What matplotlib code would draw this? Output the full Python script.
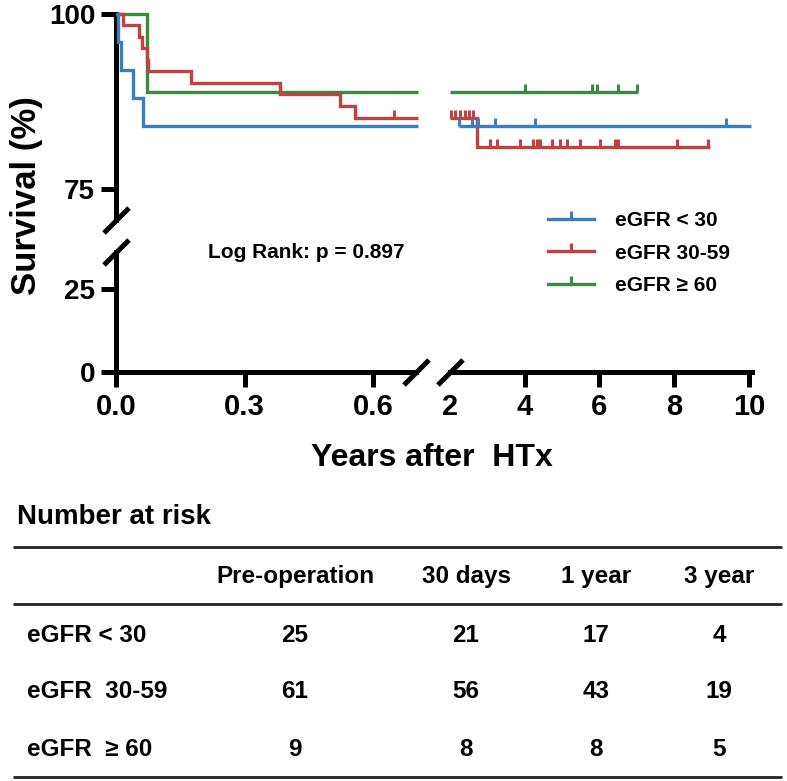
import matplotlib
matplotlib.use("Agg")
import matplotlib.pyplot as plt
from matplotlib.path import Path
from matplotlib.lines import Line2D

plt.rcParams['font.family'] = ['Liberation Sans', 'DejaVu Sans']
plt.rcParams['font.weight'] = 'bold'

# ---------------- data ----------------
groups = ["eGFR < 30", "eGFR 30-59", "eGFR \u2265 60"]
colors = ["#3A7EC0", "#C0423F", "#3A8A3F"]

blue_event_t = [0.005, 0.011, 0.039, 0.062]
blue_event_s = [96.0, 92.0, 88.0, 84.0]
blue_censor_t = [2.24, 2.59, 2.75, 3.20, 4.27, 9.38]
blue_right_start = 2.24
blue_end = 10.05

red_event_t = [0.016, 0.054, 0.060, 0.072, 0.075, 0.175, 0.382, 0.523, 0.558, 2.71]
red_event_s = [98.4, 96.7, 95.1, 93.4, 91.8, 90.2, 88.5, 86.9, 85.2, 81.0]
red_censor_t = [0.649, 2.03, 2.13, 2.27, 2.40, 2.51, 2.62, 3.07, 3.26, 3.87, 4.22,
                4.33, 4.41, 4.73, 4.94, 5.13, 5.48, 6.01, 6.41, 6.49, 8.07, 8.90]
red_right_start = 2.0
red_end = 8.96

green_event_t = [0.072]
green_event_s = [88.9]
green_censor_t = [4.01, 5.80, 5.93, 6.49, 7.00]
green_right_start = 2.0
green_end = 7.03

log_rank_text = "Log Rank: p = 0.897"

risk_columns = ["Pre-operation", "30 days", "1 year", "3 year"]
risk_rows = ["eGFR < 30", "eGFR  30-59", "eGFR  \u2265 60"]
risk_lt30 = [25, 21, 17, 4]
risk_30_59 = [61, 56, 43, 19]
risk_ge60 = [9, 8, 8, 5]

left_xticks = [0.0, 0.3, 0.6]
left_xticklabels = ["0.0", "0.3", "0.6"]
right_xticks = [2, 4, 6, 8, 10]
upper_yticks = [75, 100]
lower_yticks = [0, 25]

# ---------------- layout ----------------
W, H = 787, 781
fig = plt.figure(figsize=(W / 100, H / 100), dpi=100)


def rect(x0, y0, x1, y1):
    return [x0 / W, 1 - y1 / H, (x1 - x0) / W, (y1 - y0) / H]


XL = (116, 416)
XR = (450, 751.6)
YU = (14, 220)
YL = (252, 372)

ax_ul = fig.add_axes(rect(XL[0], YU[0], XL[1], YU[1]))
ax_ur = fig.add_axes(rect(XR[0], YU[0], XR[1], YU[1]))
ax_ll = fig.add_axes(rect(XL[0], YL[0], XL[1], YL[1]))
ax_lr = fig.add_axes(rect(XR[0], YL[0], XR[1], YL[1]))

LEFT_LIM = (0, 0.7)
RIGHT_LIM = (2, 10.07)
UP_LIM = (70.57, 100)
LOW_LIM = (0, 36.1)
LEFT_CURVE_END = 0.705

for ax in (ax_ul, ax_ll):
    ax.set_xlim(*LEFT_LIM)
for ax in (ax_ur, ax_lr):
    ax.set_xlim(*RIGHT_LIM)
for ax in (ax_ul, ax_ur):
    ax.set_ylim(*UP_LIM)
for ax in (ax_ll, ax_lr):
    ax.set_ylim(*LOW_LIM)

SPW = 3.6
for ax in (ax_ul, ax_ur, ax_ll, ax_lr):
    ax.patch.set_visible(False)
    for s in ax.spines.values():
        s.set_visible(False)
        s.set_linewidth(SPW)
        s.set_capstyle('projecting')
    ax.tick_params(length=11, width=SPW, color='black')

ax_ul.spines['left'].set_visible(True)
ax_ll.spines['left'].set_visible(True)
ax_ll.spines['bottom'].set_visible(True)
ax_lr.spines['bottom'].set_visible(True)

ax_ul.set_xticks([])
ax_ur.set_xticks([])
ax_ur.set_yticks([])
ax_lr.set_yticks([])
ax_ul.set_yticks(upper_yticks)
ax_ll.set_yticks(lower_yticks)
ax_ll.set_xticks(left_xticks)
ax_ll.set_xticklabels(left_xticklabels)
ax_lr.set_xticks(right_xticks)
ax_lr.set_xticklabels([str(v) for v in right_xticks])
ax_lr.xaxis.get_major_ticks()[0].tick1line.set_visible(False)
for ax in (ax_ul, ax_ll):
    ax.tick_params(axis='y', pad=4, labelsize=20)
for ax in (ax_ll, ax_lr):
    ax.tick_params(axis='x', pad=4, labelsize=21)

# break slashes
SLASH = Path([(-1, -1), (1, 1)], [Path.MOVETO, Path.LINETO])


def slash(ax, x, y):
    ax.plot([x], [y], transform=ax.transAxes, marker=SLASH, ms=18, mew=SPW,
            color='black', clip_on=False, linestyle='none', zorder=5)


slash(ax_ul, 0, 0)
slash(ax_ll, 0, 1)
slash(ax_ll, 1, 0)
slash(ax_lr, 0, 0)

# ---------------- survival curves ----------------
TICK = Path([(0, 0), (0, 1)], [Path.MOVETO, Path.LINETO])
LW = 2.4


def surv(ev_t, ev_s, t):
    s = 100.0
    for et, es in zip(ev_t, ev_s):
        if et <= t:
            s = es
    return s


def draw_segment(ax, ev_t, ev_s, c_t, t0, t1, color, z):
    xs = [t0]
    ys = [surv(ev_t, ev_s, t0)]
    for et, es in zip(ev_t, ev_s):
        if t0 < et < t1:
            xs.append(et)
            ys.append(es)
    xs.append(t1)
    ys.append(ys[-1])
    ax.step(xs, ys, where='post', color=color, lw=LW, solid_joinstyle='miter',
            solid_capstyle='butt', clip_on=False, zorder=z)
    ct = [t for t in c_t if t0 <= t <= t1]
    ax.plot(ct, [surv(ev_t, ev_s, t) for t in ct], linestyle='none', marker=TICK,
            ms=11, mew=2.2, color=color, clip_on=False, zorder=z)


series = [
    (green_event_t, green_event_s, green_censor_t, green_right_start, green_end, colors[2], 3),
    (red_event_t, red_event_s, red_censor_t, red_right_start, red_end, colors[1], 4),
    (blue_event_t, blue_event_s, blue_censor_t, blue_right_start, blue_end, colors[0], 5),
]
for ev_t, ev_s, c_t, rs, end, col, z in series:
    draw_segment(ax_ul, ev_t, ev_s, c_t, 0.0, LEFT_CURVE_END, col, z)
    draw_segment(ax_ur, ev_t, ev_s, c_t, rs, end, col, z)

# legend
handles = [Line2D([], [], color=c, lw=LW, marker=TICK, ms=11, mew=2.2) for c in colors]
fig.legend(handles, groups, loc='upper left', bbox_to_anchor=(548 / W, 1 - 211 / H),
           frameon=False, fontsize=15, handlelength=2.2, handletextpad=1.0,
           labelspacing=0.65, borderpad=0, borderaxespad=0, numpoints=1)

# ---------------- overlay texts and table ----------------
ov = fig.add_axes([0, 0, 1, 1])
ov.set_xlim(0, W)
ov.set_ylim(H, 0)
ov.axis('off')
ov.patch.set_visible(False)

ov.text(208, 253, log_rank_text, fontsize=15, va='center', ha='left')
ov.text(27, 196, "Survival (%)", fontsize=25, rotation=90, va='center', ha='center')
ov.text(432, 458, "Years after  HTx", fontsize=23, va='center', ha='center')
ov.text(17, 517, "Number at risk", fontsize=20, va='center', ha='left')

for yy in (547, 604, 777):
    ov.plot([13, 782], [yy, yy], color='#222222', lw=2.0, solid_capstyle='butt')

col_x = [295, 466, 596, 719]
row_y = [635, 692, 750]
for cx, lab in zip(col_x, risk_columns):
    ov.text(cx, 577, lab, fontsize=17.5, ha='center', va='center')
for ry, lab, vals in zip(row_y, risk_rows, [risk_lt30, risk_30_59, risk_ge60]):
    ov.text(27, ry, lab, fontsize=17.5, ha='left', va='center')
    for cx, v in zip(col_x, vals):
        ov.text(cx, ry, str(v), fontsize=17.5, ha='center', va='center')

fig.savefig("out.png", dpi=100)
